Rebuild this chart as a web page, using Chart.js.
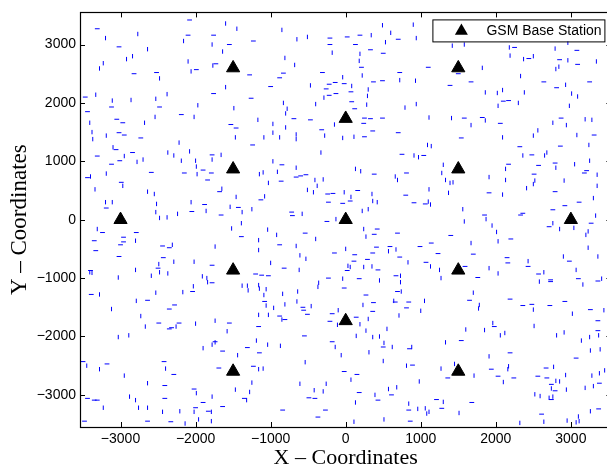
<!DOCTYPE html>
<html>
<head>
<meta charset="utf-8">
<script src="https://cdn.jsdelivr.net/npm/chart.js@4.4.1/dist/chart.umd.min.js"></script>
<style>
  html, body { margin: 0; padding: 0; background: #fff; overflow: hidden; }
  #wrap { position: relative; width: 620px; height: 466px; }
</style>
</head>
<body>
<div id="wrap"><canvas id="gsmChart"></canvas></div>
<script>
// Base station sites (hexagonal layout)
const stationX = [0, 0, 0, 1500, 1500, -1500, -1500, 1500, 1500, -1500, -1500, 3000, -3000];
const stationY = [0, 1732, -1732, 866, -866, 866, -866, 2598, -2598, 2598, -2598, 0, 0];

// Short horizontal user moves, [x, y] centre
const hSteps = [
  [-3310,3270],[-3020,2960],[-2080,3420],[-2100,3160],[-1760,3160],[-1550,3000],[-1230,3060],[-210,3110],[-210,3000],
  [-2820,2500],[-2520,2520],[-1990,2570],[-1730,2670],[-1280,2480],[-1000,2280],[-880,2430],[-830,2510],[-310,2520],
  [-260,2240],[-220,2320],[-140,2350],[-3470,2100],[-3120,1930],[-2480,1930],[-1760,2160],[-1260,2080],[-220,2130],
  [-130,2160],[-3440,1850],[-3050,1720],[-2970,1660],[-3020,1490],[-2950,1450],[-2730,1400],[-2190,1800],[-1530,1630],
  [-1460,1570],[-690,1730],[-470,1710],[-320,1540],[-3310,1090],[-3060,1200],[-3120,950],[-3010,1010],[-2840,1150],
  [-2590,810],[-1900,850],[-1780,1110],[-1790,800],[-2150,800],[-1840,680],[-1240,1280],[-850,940],[-860,660],
  [-660,730],[-530,770],[-600,750],[-3440,720],[-2990,640],[-3190,200],[-2050,140],[-1880,260],[-1680,480],
  [-1660,80],[-1430,210],[-1130,340],[-720,130],[-710,70],[-240,440],[-230,300],[-170,450],
  [20,3130],[190,3160],[130,3000],[330,2910],[210,2610],[500,2850],[700,3090],[720,2520],[1100,2610],[490,2380],
  [370,2360],[70,2190],[-20,2330],[80,2020],[120,1900],[1500,2500],[1670,2360],[1390,2300],[2100,2030],[2170,2040],
  [2250,2950],[2440,2760],[2640,2360],[2810,2260],[3080,2900],[2850,2740],[3090,2660],[3250,2360],[250,1740],
  [330,1730],[490,1740],[240,1650],[360,1520],[250,1420],[700,1490],[1580,1740],[1820,1750],[2060,1650],[1540,1400],
  [750,1120],[1040,1100],[2870,1740],[3310,1450],[2860,1260],[2320,1250],[2480,1110],[380,780],[810,800],[2170,950],
  [2570,930],[2790,970],[2510,780],[3210,840],[3180,800],[2790,480],[1910,460],[1060,270],[910,290],[800,420],
  [160,500],[60,320],[-40,280],[1850,80],[2330,80],[2360,110],[2760,170],[2920,240],[3110,300],
  [-3240,-220],[-2790,-220],[-3350,-360],[-2960,-300],[-2960,-380],[-3000,-430],[-3330,-530],[-2440,-450],[-2350,-480],
  [-1390,-290],[-880,-430],[-540,-230],[-250,-30],[-150,-570],[-3020,-630],[-3400,-870],[-2500,-830],[-2430,-650],
  [-1780,-780],[-1780,-1080],[-1200,-930],[-1120,-950],[-1030,-960],[-820,-830],[-230,-1000],[-3390,-1280],
  [-2640,-1380],[-2350,-1530],[-2280,-1460],[-2040,-1230],[-1080,-1400],[-570,-1500],[-560,-1550],[-510,-1620],
  [-180,-1610],[-210,-1740],[-2490,-1770],[-2350,-1870],[-2320,-1850],[-2220,-1770],[-1550,-1770],[-1160,-1830],
  [-880,-1650],[-810,-1710],[-3500,-2430],[-3180,-2470],[-2420,-2430],[-2290,-2650],[-1740,-2090],[-1640,-2250],
  [-1310,-2190],[-1150,-2280],[-550,-1990],[-180,-2090],[-1230,-2510],[-1690,-2540],[-1350,-3060],[-2410,-2840],
  [-2410,-3060],[-2020,-2900],[-1900,-3130],[-1640,-3200],[-1830,-3280],[-2000,-3220],[-2640,-3450],[-3350,-3090],
  [-3310,-3090],[-3440,-3060],[-3480,-3450],[-2330,-3460],[-410,-3060],[-490,-3050],[-370,-3380],[-270,-3260],[-840,-3260],
  [420,-160],[380,-250],[690,-230],[120,-600],[110,-710],[290,-680],[360,-570],[410,-470],[590,-460],[720,-640],
  [990,-460],[1140,-400],[1230,-580],[1070,-730],[1400,-270],[2200,-330],[2710,-120],[3270,-60],[1700,-590],
  [2150,-650],[2160,-740],[2430,-800],[1760,-990],[1590,-800],[2980,-710],[2570,-930],[2730,-1030],[2730,-1060],
  [3100,-1010],[3360,-1050],[20,-870],[180,-1010],[-20,-1170],[430,-860],[670,-960],[270,-1290],[690,-1230],
  [370,-1420],[660,-1410],[840,-1410],[810,-1510],[360,-1570],[140,-1670],[1650,-1380],[2190,-1360],[2360,-1470],
  [2480,-1450],[2720,-1470],[2920,-1400],[3260,-1540],[3360,-1730],[1980,-1830],[3360,-1900],[3070,-2370],[500,-2180],
  [850,-2210],[1540,-2070],[2190,-2280],[-20,-2600],[150,-2650],[890,-2490],[1360,-2710],[1940,-2560],[2030,-2680],
  [2240,-2710],[2560,-2680],[2670,-2540],[2680,-2710],[2740,-2820],[2790,-2930],[3380,-2800],[2740,-3080],[180,-2960],
  [430,-3090],[610,-3000],[1210,-3080],[840,-3260],[1280,-3230],[1680,-3130],[860,-3450],[2610,-3330],[3370,-3240]
];

// Short vertical user moves, [x, y] centre
const vSteps = [
  [-3200,3110],[-2770,3180],[-2640,2920],[-2160,3060],[-1780,3000],[-1600,3360],[-1450,3270],[-1640,2880],[-850,3250],
  [-650,3090],[-510,3130],[-180,2860],[-3230,2680],[-3280,2590],[-2920,2750],[-2840,2800],[-2480,2420],[-2100,2710],
  [-2060,2540],[-1770,2640],[-1600,2270],[-810,2770],[-680,2650],[-470,2300],[-3330,2140],[-3110,2040],[-2860,2050],
  [-2530,2070],[-2380,2150],[-1970,1960],[-1490,1910],[-830,2000],[-780,1900],[-800,1820],[-400,1980],[-290,2090],
  [-3410,1660],[-3380,1500],[-3370,1380],[-3190,1440],[-2680,1660],[-2540,1760],[-2020,1760],[-2220,1320],[-1470,1410],
  [-1170,1710],[-970,1640],[-880,1410],[-1090,1410],[-970,1490],[-800,1580],[-660,1460],[-660,1380],[-280,1440],
  [-150,1630],[-3100,1240],[-2950,1090],[-2780,990],[-2700,1030],[-2370,1150],[-2290,1100],[-2190,1010],[-2080,1170],
  [-2000,1010],[-1990,910],[-1780,1030],[-1660,1110],[-1980,780],[-970,1000],[-910,820],[-1100,810],[-1150,780],
  [-1030,630],[-660,890],[-410,680],[-330,1150],[-300,690],[-3400,740],[-3340,520],[-3190,790],[-2970,580],[-2640,480],
  [-2550,440],[-2520,270],[-2530,130],[-3200,300],[-3110,300],[-2480,30],[-2380,40],[-2240,100],[-2060,300],[-1860,150],
  [-1650,530],[-1540,220],[-1460,390],[-1380,130],[-1250,180],[-1080,400],[-580,100],[-510,510],[-430,470],[-380,580],[-130,10],
  [340,3160],[190,2840],[180,2720],[490,3330],[600,3200],[530,3040],[900,3340],[940,3110],[720,2390],[930,2380],
  [220,2470],[-40,2440],[80,2290],[300,2230],[290,2120],[280,1970],[790,1920],[940,1980],[1420,2980],[1580,3000],
  [1820,2600],[1860,2180],[2020,2170],[2090,2220],[2030,1950],[2300,2000],[2380,2180],[2180,2950],[2190,2810],
  [2370,2750],[2500,2800],[2330,2460],[2930,2310],[3010,2160],[3090,2110],[2980,1950],[2790,2930],[2960,3030],
  [2960,2730],[2800,2580],[2840,2620],[3340,2710],[110,1420],[-40,1400],[1110,1750],[1410,1740],[1670,1620],
  [1860,1700],[2090,1410],[910,1100],[970,1070],[1090,1280],[1140,1260],[2760,1660],[2940,1620],[3190,1720],
  [3280,1710],[2560,1530],[2500,1440],[3080,1450],[3240,1280],[2360,1100],[2680,1150],[2650,1100],[3250,1010],
  [130,870],[200,830],[660,740],[690,680],[1300,940],[1280,800],[1330,680],[1390,630],[1430,640],[1910,730],
  [2130,870],[2800,890],[2130,680],[2520,670],[2500,610],[2910,670],[3050,950],[3350,770],[3350,580],[2410,540],
  [2090,430],[1110,520],[1370,460],[1100,310],[1130,260],[420,300],[350,440],[360,320],[70,390],[-20,470],
  [220,150],[300,180],[1560,180],[1870,10],[3300,370],[3330,70],
  [-3310,-160],[-2800,-360],[-2310,-430],[-1740,-460],[-1520,-150],[-1390,-60],[-1160,-350],[-1160,-520],[-1040,-170],
  [-920,-260],[-660,-450],[-610,-610],[-530,-670],[-400,-330],[-3410,-900],[-3380,-910],[-3030,-990],[-2800,-860],
  [-2590,-960],[-2490,-760],[-2480,-900],[-2370,-920],[-2290,-720],[-2020,-720],[-1910,-970],[-1850,-1000],[-1840,-1070],
  [-1380,-1130],[-1310,-1130],[-1300,-1210],[-1000,-740],[-620,-860],[-3280,-1280],[-3120,-1530],[-2790,-1390],
  [-2530,-1250],[-2730,-1650],[-2170,-1240],[-2030,-1140],[-1160,-1120],[-1150,-1180],[-1060,-1190],[-1060,-1470],
  [-1090,-1290],[-960,-1510],[-840,-1270],[-810,-1450],[-650,-1400],[-640,-1230],[-460,-1480],[-370,-1150],[-360,-1080],
  [-100,-1550],[-110,-1800],[-2670,-1830],[-2260,-1830],[-2000,-1780],[-1740,-1730],[-1580,-1910],[-1160,-1630],
  [-1030,-1630],[-850,-1710],[-3030,-2010],[-2890,-1980],[-3450,-2500],[-3280,-2560],[-2950,-2670],[-2400,-2550],
  [-1780,-2140],[-1740,-2100],[-1900,-2200],[-1440,-2320],[-1190,-2070],[-1040,-2140],[-870,-2160],[-140,-2180],
  [-540,-2440],[-1100,-2550],[-1160,-2560],[-1250,-2790],[-1470,-2910],[-1280,-2950],[-1320,-3090],[-2640,-2800],
  [-1990,-2970],[-1780,-3030],[-1790,-3290],[-2020,-3290],[-2210,-3280],[-2440,-3290],[-2880,-3030],[-2800,-3090],
  [-2760,-3220],[-2640,-3220],[-3230,-3220],[-2140,-3490],[-1960,-3420],[-1790,-3450],[-610,-2810],[-420,-2920],
  [-300,-2940],[-260,-2810],
  [240,-160],[270,-290],[0,-500],[570,-540],[670,-510],[830,-730],[1130,-800],[1250,-860],[1270,-1000],[1580,-30],
  [1950,-100],[2010,-210],[2030,-370],[2760,-60],[2850,-160],[3040,-140],[3230,-200],[3200,-260],[1670,-400],
  [2430,-710],[1910,-830],[2030,-920],[2900,-630],[3070,-860],[3230,-480],[3360,-630],[2640,-900],[2580,-1060],
  [3160,-1110],[3410,-1010],[-40,-1010],[30,-790],[60,-810],[240,-810],[350,-800],[450,-1040],[730,-960],[730,-1070],
  [740,-1230],[640,-1390],[1050,-1390],[1000,-1560],[230,-1460],[300,-1700],[190,-1790],[710,-1640],[1700,-1250],
  [1780,-1460],[1770,-1520],[2500,-1540],[3020,-1610],[3440,-1550],[1600,-1880],[1850,-1890],[1960,-1770],[2060,-1980],
  [2120,-1940],[2510,-1820],[2810,-1980],[2910,-1930],[3140,-2070],[3250,-2010],[3370,-1980],[3260,-2240],[3390,-2220],
  [140,-1990],[270,-1900],[360,-2010],[450,-2000],[550,-1870],[510,-2110],[620,-2180],[880,-2180],[310,-2270],
  [500,-2420],[1330,-2100],[1910,-2340],[-60,-2320],[70,-2740],[810,-2500],[980,-2770],[1270,-2550],[1450,-2470],
  [1710,-2670],[2100,-2780],[2160,-2560],[2170,-2510],[2770,-2520],[2740,-2890],[2800,-2760],[2850,-2770],[2930,-2660],
  [2940,-2910],[3280,-2670],[3380,-2630],[3450,-2580],[3300,-2850],[3190,-2880],[2520,-2990],[2590,-3020],[2710,-3050],
  [2760,-3030],[390,-3000],[130,-3130],[570,-2900],[680,-2870],[1300,-3120],[840,-3150],[960,-3240],[1060,-3230],
  [1080,-3320],[1110,-3290],[1510,-3310],[110,-3460],[510,-3420],[2320,-3480],[2640,-3460],[2950,-3440],[3070,-3470],
  [3110,-3450],[3100,-3370],[3260,-3280]
];

const axisTicks = [-3000, -2000, -1000, 0, 1000, 2000, 3000];

const fmt = v => (v < 0 ? '\u2212' + Math.abs(v) : String(v));

// MATLAB-like box with inward ticks
const boxTicks = {
    id: 'boxTicks',
    afterDatasetsDraw(chart) {
        const { ctx, chartArea: a, scales: { x, y } } = chart;
        ctx.save();
        ctx.strokeStyle = '#000';
        ctx.lineWidth = 1;
        ctx.beginPath();
        x.ticks.forEach(t => {
            const px = Math.round(x.getPixelForValue(t.value)) + 0.5;
            ctx.moveTo(px, a.bottom); ctx.lineTo(px, a.bottom - 5);
            ctx.moveTo(px, a.top); ctx.lineTo(px, a.top + 5);
        });
        y.ticks.forEach(t => {
            const py = Math.round(y.getPixelForValue(t.value)) + 0.5;
            ctx.moveTo(a.left, py); ctx.lineTo(a.left + 5, py);
            ctx.moveTo(a.right, py); ctx.lineTo(a.right - 5, py);
        });
        ctx.stroke();
        ctx.lineWidth = 1.2;
        ctx.strokeRect(Math.round(a.left) + 0.5, Math.round(a.top) + 0.5,
            Math.round(a.right - a.left), Math.round(a.bottom - a.top));
        ctx.restore();
    }
};

// Legend box in the upper right corner
const cornerLegend = {
    id: 'cornerLegend',
    afterDraw(chart) {
        const { ctx, chartArea: a } = chart;
        const ds = chart.data.datasets[0];
        const right = a.right - 7, top = a.top + 7, w = 172, h = 22;
        ctx.save();
        ctx.fillStyle = '#fff';
        ctx.fillRect(right - w, top, w, h);
        ctx.strokeStyle = '#000';
        ctx.lineWidth = 1;
        ctx.strokeRect(right - w + 0.5, top + 0.5, w, h);
        const cx = right - w + 29, cy = top + 11.5, r = 7.5;
        ctx.fillStyle = '#000';
        ctx.beginPath();
        ctx.moveTo(cx, cy - r);
        ctx.lineTo(cx + r * 0.866, cy + r / 2);
        ctx.lineTo(cx - r * 0.866, cy + r / 2);
        ctx.closePath();
        ctx.fill();
        ctx.font = '14px "Liberation Sans", Arial, Helvetica, sans-serif';
        ctx.textBaseline = 'middle';
        ctx.fillText(ds.label, right - w + 54, top + 11.5);
        ctx.restore();
    }
};

const tickFont = { family: '"Liberation Sans", Arial, Helvetica, sans-serif', size: 14 };
const serif = '"Liberation Serif", "Times New Roman", serif';

new Chart(document.getElementById('gsmChart'), {
    type: 'scatter',
    data: {
        datasets: [
            {
                label: 'GSM Base Station',
                data: stationX.map((x, i) => ({ x, y: stationY[i] })),
                pointStyle: 'triangle',
                pointRadius: 7.6,
                backgroundColor: '#000',
                borderColor: '#000',
                borderWidth: 1
            },
            {
                label: 'horizontal moves',
                data: hSteps.map(([x, y]) => ({ x, y })),
                pointStyle: 'line',
                pointRadius: 2.4,
                pointRotation: 0,
                borderColor: '#0000ff',
                borderWidth: 1
            },
            {
                label: 'vertical moves',
                data: vSteps.map(([x, y]) => ({ x, y })),
                pointStyle: 'line',
                pointRadius: 2.2,
                pointRotation: 90,
                borderColor: '#0000ff',
                borderWidth: 1
            }
        ]
    },
    options: {
        responsive: true,
        maintainAspectRatio: false,
        animation: false,
        events: [],
        layout: { padding: { top: 11, right: 7, left: 0, bottom: 0 } },
        plugins: { legend: { display: false }, tooltip: { enabled: false } },
        scales: {
            x: {
                type: 'linear',
                min: -3540,
                max: 3540,
                afterFit: s => { s.height = 39; },
                afterBuildTicks: s => { s.ticks = axisTicks.map(v => ({ value: v })); },
                grid: { display: false, drawTicks: false },
                border: { display: false },
                ticks: { color: '#000', font: tickFont, padding: 4, maxRotation: 0, callback: fmt },
                title: { display: true, text: 'X \u2013 Coordinates', color: '#000',
                    font: { family: serif, size: 22, lineHeight: 0.7 }, padding: { top: 0, bottom: 0 } }
            },
            y: {
                type: 'linear',
                min: -3550,
                max: 3550,
                afterFit: s => { s.width = 80; },
                afterBuildTicks: s => { s.ticks = axisTicks.map(v => ({ value: v })); },
                grid: { display: false, drawTicks: false },
                border: { display: false },
                ticks: { color: '#000', font: tickFont, padding: 4, callback: fmt },
                title: { display: true, text: 'Y \u2013 Coordinates', color: '#000',
                    font: { family: serif, size: 23, lineHeight: 1 }, padding: { top: 8, bottom: 0 } }
            }
        }
    },
    plugins: [boxTicks, cornerLegend]
});
</script>
</body>
</html>
